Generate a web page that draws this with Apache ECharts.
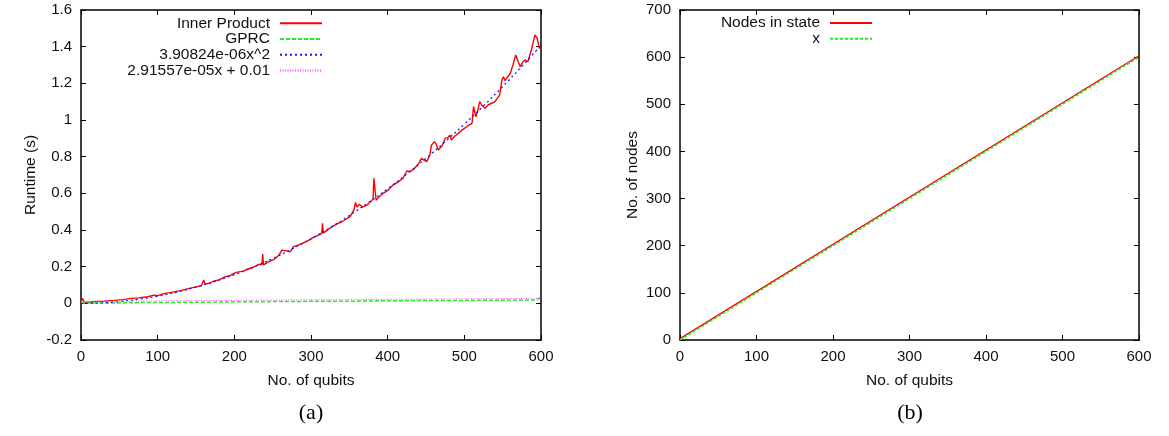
<!DOCTYPE html>
<html>
<head>
<meta charset="utf-8">
<script src="https://cdn.jsdelivr.net/npm/echarts@6/dist/echarts.min.js"></script>
<style>
  html, body { margin: 0; padding: 0; background: #fff; }
  #chart { width: 1169px; height: 436px; }
</style>
</head>
<body>
<div id="chart"></div>
<script>
// (a) runtime of the inner product vs. number of qubits
const ipQubits = [0, 2, 4, 10, 20, 30, 43, 55, 65, 75, 87, 95, 100, 108, 118, 130, 140, 150, 157, 160,
  162, 168, 174, 180, 187, 195, 200, 204, 206, 212, 217, 225, 232, 236, 237, 238, 245, 252, 258, 262,
  268, 273, 277, 283, 290, 297, 303, 310, 314, 315, 316, 322, 328, 334, 340, 346, 351, 356, 358, 360,
  363, 367, 373, 378, 381, 382, 383, 385, 390, 394, 400, 407, 413, 420, 425, 429, 434, 440, 444, 448,
  451, 455, 457, 461, 463, 466, 468, 471, 475, 479, 481, 483, 487, 492, 497, 503, 507, 510, 512, 515,
  518, 520, 523, 527, 531, 535, 540, 546, 549, 551, 553, 555, 560, 564, 567, 570, 573, 576, 579, 583,
  588, 592, 595, 598, 600];
const ipRuntime = [0.005, 0.027, 0.008, 0.006, 0.010, 0.012, 0.016, 0.020, 0.027, 0.030, 0.036, 0.045, 0.042, 0.053, 0.060, 0.069, 0.080, 0.090, 0.095, 0.127,
  0.104, 0.112, 0.122, 0.128, 0.143, 0.152, 0.165, 0.170, 0.160, 0.176, 0.186, 0.197, 0.212, 0.212, 0.269, 0.210, 0.228, 0.240, 0.262, 0.290,
  0.286, 0.281, 0.309, 0.317, 0.330, 0.343, 0.360, 0.372, 0.383, 0.436, 0.382, 0.402, 0.418, 0.433, 0.445, 0.460, 0.473, 0.510, 0.550, 0.525,
  0.540, 0.525, 0.536, 0.555, 0.570, 0.682, 0.640, 0.563, 0.585, 0.600, 0.615, 0.645, 0.660, 0.682, 0.722, 0.718, 0.731, 0.760, 0.791, 0.780,
  0.773, 0.809, 0.862, 0.882, 0.870, 0.836, 0.827, 0.860, 0.900, 0.905, 0.918, 0.891, 0.910, 0.927, 0.945, 0.963, 0.975, 0.982, 1.073, 1.018,
  1.060, 1.100, 1.080, 1.064, 1.082, 1.090, 1.100, 1.136, 1.218, 1.236, 1.215, 1.218, 1.255, 1.309, 1.355, 1.320, 1.291, 1.315, 1.327, 1.318,
  1.391, 1.464, 1.445, 1.391, 1.400];

const gprcQubits = [0, 20, 40, 60, 80, 100, 120, 140, 160, 180, 200, 220, 240, 260, 280, 300, 320, 340, 360, 380,
  400, 420, 440, 460, 480, 500, 520, 540, 560, 580, 595, 598, 600];
const gprcRuntime = [0.001, 0.002, 0.002, 0.003, 0.004, 0.004, 0.005, 0.006, 0.006, 0.007, 0.008, 0.008, 0.009, 0.010, 0.010, 0.011, 0.011, 0.012, 0.012, 0.013,
  0.014, 0.014, 0.015, 0.015, 0.016, 0.016, 0.017, 0.017, 0.018, 0.018, 0.019, 0.030, 0.020];

// quadratic fit 3.90824e-06x^2, sampled every 25 qubits
const fitQubits = [0, 25, 50, 75, 100, 125, 150, 175, 200, 225, 250, 275, 300, 325, 350, 375, 400, 425, 450, 475, 500, 525, 550, 575, 600];
const fitQuadratic = [0, 0.002, 0.010, 0.022, 0.039, 0.061, 0.088, 0.120, 0.156, 0.198, 0.244, 0.296, 0.352, 0.413, 0.479, 0.550, 0.625, 0.706, 0.791, 0.882, 0.977, 1.077, 1.182, 1.292, 1.407];

// linear fit 2.91557e-05x + 0.01
const linQubits = [0, 600];
const linRuntime = [0.01, 0.0275];

const runtimeTicks = { min: -0.2, max: 1.6, interval: 0.2 };

// (b) number of nodes in the state vs. number of qubits
const nodeQubits = [0, 600];
const nodesInState = [3, 603];
const identityX = [0, 600];

const legendA = ['Inner Product', 'GPRC', '3.90824e-06x^2', '2.91557e-05x + 0.01'];
const legendB = ['Nodes in state', 'x'];

const zip = (xs, ys) => xs.map((x, i) => [x, ys[i]]);

const FONT = '"Liberation Sans", Arial, sans-serif';
const AXIS_LINE = { show: true, onZero: false, lineStyle: { color: '#000', width: 1.5 } };
const TICK = { show: true, inside: true, length: 5, lineStyle: { color: '#000', width: 1 } };
const LABEL = { color: '#111', fontFamily: FONT, fontSize: 15 };

function axisPair(kind, gridIndex, range, name, nameGap) {
  const main = {
    type: 'value', gridIndex, min: range.min, max: range.max, interval: range.interval,
    position: kind === 'x' ? 'bottom' : 'left',
    axisLine: AXIS_LINE, axisTick: TICK, splitLine: { show: false },
    axisLabel: Object.assign({ margin: 9 }, LABEL),
    name, nameLocation: 'middle', nameGap,
    nameTextStyle: { color: '#111', fontFamily: FONT, fontSize: 15.5 }
  };
  // mirrored border with inward ticks on the opposite side
  const mirror = {
    type: 'value', gridIndex, min: range.min, max: range.max, interval: range.interval,
    position: kind === 'x' ? 'top' : 'right',
    axisLine: AXIS_LINE, axisTick: TICK, splitLine: { show: false },
    axisLabel: { show: false }
  };
  return [main, mirror];
}

const qubitRange = { min: 0, max: 600, interval: 100 };
const nodeRange = { min: 0, max: 700, interval: 100 };

const [xA, xA2] = axisPair('x', 0, qubitRange, 'No. of qubits', 33);
const [yA, yA2] = axisPair('y', 0, runtimeTicks, 'Runtime (s)', 42);
const [xB, xB2] = axisPair('x', 1, qubitRange, 'No. of qubits', 33);
const [yB, yB2] = axisPair('y', 1, nodeRange, 'No. of nodes', 39);

const legendBase = {
  orient: 'vertical', align: 'right', padding: 0,
  itemWidth: 42, itemHeight: 14, itemGap: -0.3,
  itemStyle: { opacity: 0 },
  textStyle: { color: '#111', fontFamily: FONT, fontSize: 15.5, lineHeight: 14, padding: [0, 5, 0, 0] },
  selectedMode: false
};

const lineSeries = (name, xAxisIndex, yAxisIndex, data, color, width, type, z) => ({
  name, type: 'line', xAxisIndex, yAxisIndex, data,
  symbol: 'none', showSymbol: false, animation: false, z,
  lineStyle: { color, width, type },
  itemStyle: { color }
});

const chart = echarts.init(document.getElementById('chart'), null, { renderer: 'canvas' });
const quadFit = lineSeries(legendA[2], 0, 0, zip(fitQubits, fitQuadratic), '#1a1aff', 1.3, [2, 3], 4);
quadFit.smooth = true;

chart.setOption({
  backgroundColor: '#fff',
  animation: false,
  grid: [
    { left: 81, top: 10, width: 460, height: 330 },
    { left: 680, top: 10, width: 459, height: 330 }
  ],
  xAxis: [xA, xA2, xB, xB2],
  yAxis: [yA, yA2, yB, yB2],
  legend: [
    Object.assign({ data: legendA, right: 1169 - 323, top: 15.3 }, legendBase),
    Object.assign({ data: legendB, right: 1169 - 873, top: 15 }, legendBase)
  ],
  series: [
    lineSeries(legendA[0], 0, 0, zip(ipQubits, ipRuntime), '#ff0000', 1.4, 'solid', 2),
    lineSeries(legendA[1], 0, 0, zip(gprcQubits, gprcRuntime), '#22ee22', 1.5, [4, 2], 3),
    quadFit,
    lineSeries(legendA[3], 0, 0, zip(linQubits, linRuntime), '#ff44ff', 1, [1, 1.5], 5),
    lineSeries(legendB[0], 2, 2, zip(nodeQubits, nodesInState), '#ff0000', 1.4, 'solid', 2),
    lineSeries(legendB[1], 2, 2, zip(nodeQubits, identityX), '#22ee22', 1.5, [3, 2], 3)
  ],
  graphic: [
    { type: 'text', x: 311, y: 413, style: { text: '(a)', font: '22px "Liberation Serif", "Times New Roman", serif', fill: '#000', textAlign: 'center', textVerticalAlign: 'middle' } },
    { type: 'text', x: 910, y: 413, style: { text: '(b)', font: '22px "Liberation Serif", "Times New Roman", serif', fill: '#000', textAlign: 'center', textVerticalAlign: 'middle' } }
  ]
});
</script>
</body>
</html>
